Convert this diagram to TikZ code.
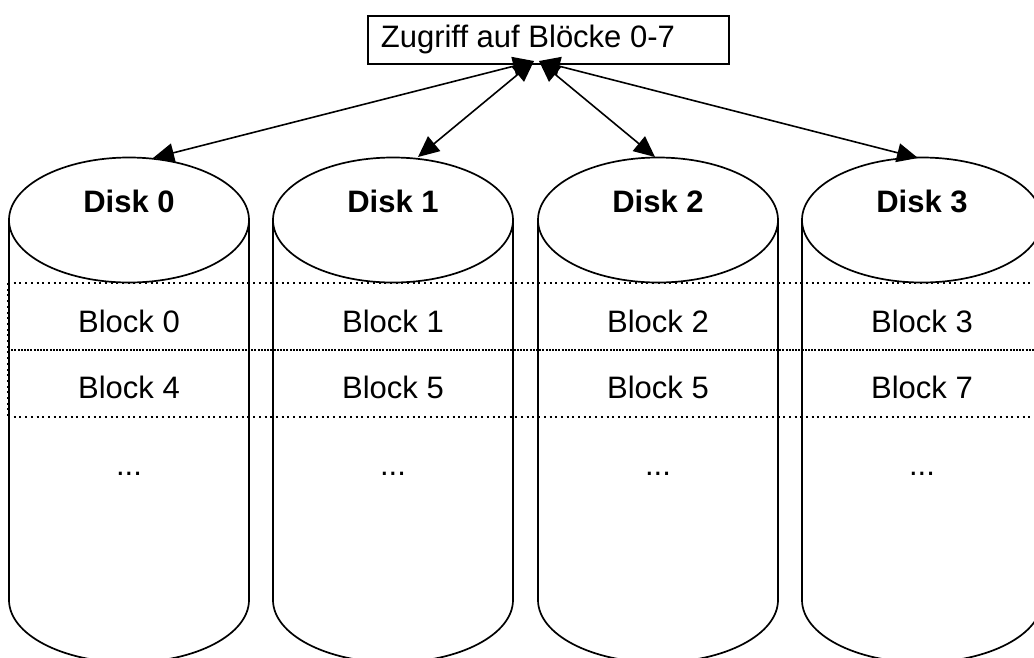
\documentclass[tikz,border=0pt]{standalone}
\usepackage{fontspec}
\setmainfont{Liberation Sans}
\usetikzlibrary{arrows.meta}
\begin{document}
\begin{tikzpicture}[x=1pt,y=-1pt,line width=1.7pt,
  lbl/.style={font=\fontsize{31}{36}\selectfont, inner sep=0pt, anchor=base},
  disklbl/.style={lbl, font=\fontsize{31}{36}\selectfont\bfseries},
  dotline/.style={line width=2pt, dash pattern=on 2pt off 3.7pt},
  densedot/.style={line width=2pt, dash pattern=on 2pt off 1.2pt},
  biarrow/.style={line width=1.6pt, {Triangle[length=21pt,width=19pt]}-{Triangle[length=21pt,width=19pt]}}]
\useasboundingbox (0,0) rectangle (1034,657);
\clip (0,0) rectangle (1034,657);
% dotted row separators
\draw[dotline] (8,283) -- (1034,283);
\draw[densedot] (8,350) -- (1034,350);
\draw[dotline] (8,417) -- (1034,417);
\draw[dotline] (7.5,283) -- (7.5,417);
% cylinders
\foreach \i/\cx in {0/129,1/393,2/658,3/922} {
  \draw (\cx-120,220) -- (\cx-120,600)
    .. controls (\cx-120,634.5) and (\cx-66.3,662.5) .. (\cx,662.5)
    .. controls (\cx+66.3,662.5) and (\cx+120,634.5) .. (\cx+120,600)
    -- (\cx+120,220);
  \draw (\cx,220) ellipse [x radius=120, y radius=62.5];
  \node[disklbl] (disk\i) at (\cx,212) {Disk \i};
}
\foreach \i/\cx/\a/\b in {0/129/0/4,1/393/1/5,2/658/2/5,3/922/3/7} {
  \node[lbl] (blk\i a) at (\cx,332) {Block \a};
  \node[lbl] (blk\i b) at (\cx,398) {Block \b};
  \node[lbl] (dots\i) at (\cx,475) {...};
}
% access box
\node[draw, line width=1.5pt, anchor=north west, minimum width=361pt, minimum height=48pt, inner sep=0pt] (box) at (367,15) {};
\node[lbl, anchor=base west] (boxtext) at (380,47) {Zugriff auf Blöcke 0-7};
% arrows
\coordinate (hl) at (534,61);
\coordinate (hr) at (539,61);
\coordinate (t0) at (153,158);
\coordinate (t1) at (418,157);
\coordinate (t2) at (655,157);
\coordinate (t3) at (918,158);
\draw[biarrow] (hl) -- (t0);
\draw[biarrow] (hl) -- (t1);
\draw[biarrow] (hr) -- (t2);
\draw[biarrow] (hr) -- (t3);
\end{tikzpicture}
\end{document}
